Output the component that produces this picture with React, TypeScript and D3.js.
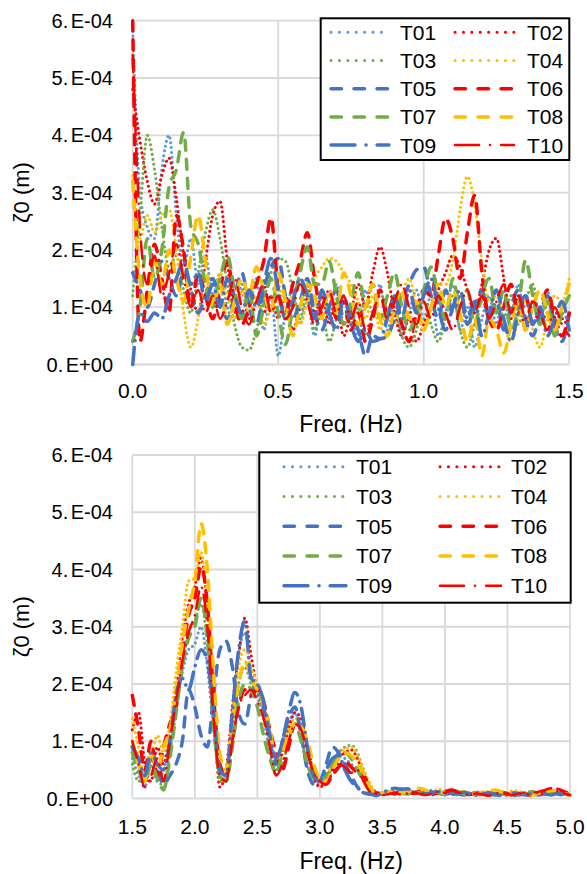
import React from "react";
import * as d3 from "d3";

// Amplitude spectra of the free-surface elevation ζ0 for ten tests.
// All amplitudes are stored in units of 1e-4 m.
const UNIT = 1e-4;
const FREQ_STEP_LOW = 0.025; // Hz, band 0.0–1.5 Hz
const FREQ_STEP_HIGH = 0.05; // Hz, band 1.5–5.0 Hz

const SERIES_NAMES = ["T01", "T02", "T03", "T04", "T05", "T06", "T07", "T08", "T09", "T10"];
const SERIES_COLORS = ["#5B9BD5", "#FF0000", "#70AD47", "#FFC000", "#4472C4", "#FF0000", "#70AD47", "#FFC000", "#4472C4", "#FF0000"];
const SERIES_STYLES = ["dot", "dot", "dot", "dot", "dash", "dash", "dash", "dash", "dashdot", "dashdot"];

// ---- 0.0 – 1.5 Hz ----
const T01_LOW = [
  5.9, 3.0, 2.4, 2.2, 3.4, 4.0, 2.6, 1.7, 2.2, 1.4,
  1.9, 1.2, 1.6, 1.0, 0.8, 1.4, 1.0, 1.5, 0.6, 1.2,
  0.15, 0.9, 1.3, 0.7, 1.1, 0.5, 1.2, 0.8, 1.4, 0.7,
  1.0, 0.4, 1.3, 0.9, 1.4, 0.6, 1.0, 0.5, 0.9, 1.3,
  0.8, 1.2, 0.5, 0.9, 1.4, 0.6, 1.0, 0.3, 0.8, 1.2,
  0.7, 1.3, 0.9, 1.4, 0.6, 1.1, 0.8, 1.3, 0.5, 0.9, 0.7,
];
const T02_LOW = [
  4.8, 3.9, 3.2, 2.8, 3.3, 3.6, 2.9, 1.9, 1.3, 0.9,
  1.8, 2.6, 2.85, 1.8, 0.9, 1.3, 0.8, 1.1, 0.9, 1.2,
  0.8, 1.2, 0.6, 1.0, 1.4, 0.9, 1.2, 0.7, 1.1, 0.5,
  0.9, 1.4, 1.0, 1.6, 2.05, 1.6, 0.9, 0.5, 0.8, 0.4,
  0.7, 1.0, 1.3, 1.6, 1.9, 1.7, 1.3, 0.9, 1.4, 2.0,
  2.2, 1.5, 0.8, 1.2, 0.6, 1.1, 0.7, 0.9, 0.5, 0.8, 0.6,
];
const T03_LOW = [
  1.2, 2.6, 4.0, 3.4, 2.4, 1.7, 1.9, 1.3, 0.9, 1.6,
  2.3, 2.7, 2.2, 1.4, 0.7, 0.3, 0.25, 0.6, 1.1, 1.6,
  1.85, 1.8, 1.3, 0.8, 1.3, 0.6, 0.9, 0.4, 0.8, 1.2,
  0.7, 1.0, 0.5, 0.9, 1.3, 0.9, 1.2, 0.5, 0.3, 0.6,
  1.1, 0.7, 0.4, 0.8, 1.2, 0.6, 0.3, 0.7, 1.1, 0.9,
  1.3, 0.8, 1.2, 0.7, 1.1, 1.4, 0.8, 1.2, 0.7, 1.0, 1.2,
];
const T04_LOW = [
  3.3, 2.2, 2.6, 2.3, 2.6, 2.7, 2.0, 0.9, 0.3, 0.8,
  1.5, 1.1, 1.6, 1.2, 0.8, 1.3, 0.9, 1.2, 0.7, 1.0,
  1.4, 0.9, 1.2, 0.7, 1.1, 1.5, 1.7, 1.85, 1.8, 1.6,
  1.4, 1.1, 0.8, 1.2, 0.6, 1.0, 0.7, 1.2, 1.5, 1.0,
  0.6, 1.0, 1.4, 1.4, 1.8, 2.7, 3.28, 2.8, 1.8, 1.1,
  1.2, 0.7, 0.4, 0.8, 1.1, 0.6, 0.3, 0.8, 1.2, 1.1, 1.5,
];
const T05_LOW = [
  1.6, 1.3, 1.0, 1.4, 1.8, 1.5, 1.2, 1.6, 1.3, 0.9,
  1.2, 1.5, 1.1, 0.8, 1.2, 1.6, 1.0, 0.7, 1.3, 1.7,
  1.85, 1.2, 0.8, 1.1, 1.5, 0.9, 0.6, 1.0, 1.3, 0.8,
  0.9, 0.6, 0.15, 0.5, 0.45, 0.5, 0.8, 1.1, 1.4, 1.65,
  1.7, 1.2, 0.8, 1.3, 0.9, 1.2, 0.7, 1.0, 1.3, 0.8,
  1.1, 0.6, 1.0, 1.3, 0.8, 0.5, 0.9, 1.2, 0.7, 0.4, 0.9,
];
const T06_LOW = [
  6.0, 0.4, 1.3, 2.1, 1.5, 0.9, 2.6, 2.0, 1.0, 1.6,
  1.2, 0.8, 1.3, 1.8, 1.1, 0.7, 1.0, 1.4, 1.8, 2.56,
  1.3, 0.9, 1.4, 1.8, 2.3, 1.5, 0.9, 1.3, 0.8, 1.1,
  0.6, 0.9, 0.4, 0.8, 1.3, 0.9, 1.2, 0.7, 0.4, 0.9,
  1.3, 1.2, 1.9, 2.55, 2.2, 1.5, 2.3, 2.95, 1.6, 0.8,
  0.6, 1.0, 1.4, 0.9, 1.2, 0.7, 1.0, 1.3, 0.8, 0.5, 0.9,
];
const T07_LOW = [
  0.4, 1.0, 2.2, 1.5, 2.0, 3.1, 3.4, 4.05, 2.4, 2.1,
  1.4, 1.0, 1.5, 1.9, 1.3, 0.8, 1.3, 0.5, 1.0, 1.5,
  0.9, 0.35, 1.0, 1.6, 2.05, 1.4, 1.4, 1.8, 1.2, 0.7,
  1.1, 1.6, 1.0, 1.4, 0.8, 1.2, 1.6, 1.0, 0.6, 0.9,
  1.3, 1.7, 1.2, 0.8, 1.5, 1.0, 1.3, 0.7, 1.2, 1.5,
  0.9, 1.3, 0.6, 1.0, 1.82, 1.2, 0.7, 1.1, 0.5, 0.9, 1.2,
];
const T08_LOW = [
  3.2, 1.5, 1.0, 1.8, 1.4, 2.0, 1.5, 1.1, 1.9, 2.6,
  1.8, 1.0, 1.4, 0.7, 1.1, 1.5, 1.2, 1.7, 1.3, 0.9,
  1.6, 1.1, 0.5, 1.0, 1.4, 1.2, 0.8, 1.3, 0.9, 1.6,
  1.2, 0.7, 1.0, 1.4, 0.8, 0.5, 1.0, 1.3, 0.8, 1.1,
  0.6, 1.0, 1.4, 1.0, 1.3, 0.9, 0.4, 0.8, 0.15, 0.8,
  0.6, 0.2, 0.7, 1.1, 0.6, 1.0, 1.3, 0.9, 0.6, 1.0, 1.4,
];
const T09_LOW = [
  0.0, 0.9, 0.75, 0.9, 0.8, 1.2, 1.5, 1.8, 1.4, 1.6,
  1.1, 1.4, 1.0, 1.5, 1.2, 0.9, 1.3, 1.0, 1.4, 1.85,
  1.3, 0.8, 1.1, 1.5, 1.2, 0.8, 1.3, 0.9, 0.6, 1.2,
  0.7, 0.4, 0.6, 0.4, 0.45, 0.8, 1.2, 0.8, 1.3, 0.9,
  1.2, 1.5, 1.0, 0.6, 1.0, 1.3, 0.8, 1.1, 0.5, 0.9,
  1.3, 0.8, 0.4, 0.9, 1.2, 0.7, 1.0, 0.5, 0.8, 1.1, 0.6,
];
const T10_LOW = [
  5.4, 2.4, 1.4, 1.9, 1.2, 1.6, 2.1, 1.5, 1.0, 1.3,
  0.9, 1.2, 0.8, 1.1, 1.5, 1.0, 0.7, 1.1, 1.4, 0.9,
  1.2, 0.8, 1.0, 1.4, 1.1, 0.7, 1.0, 1.3, 0.9, 1.2,
  0.8, 1.1, 0.6, 0.9, 1.2, 0.8, 1.1, 1.4, 1.0, 0.7,
  1.1, 0.8, 1.2, 0.9, 0.6, 1.0, 1.3, 0.9, 1.2, 0.8,
  1.1, 1.4, 0.9, 1.2, 0.8, 1.1, 0.9, 0.6, 1.0, 0.7, 0.5,
];

// ---- 1.5 – 5.0 Hz ----
const T01_HIGH = [
  0.7, 0.4, 0.2, 0.6, 0.3, 0.5, 0.9, 1.6, 2.2, 2.6,
  2.7, 3.0, 2.3, 1.2, 0.4, 0.3, 1.4, 2.5, 2.9, 2.2,
  1.8, 1.4, 0.8, 0.4, 0.9, 1.3, 1.5, 1.1, 0.6, 0.3,
  0.25, 0.3, 0.6, 0.8, 0.7, 0.6, 0.5, 0.3, 0.15, 0.1,
  0.08, 0.12, 0.1, 0.15, 0.1, 0.08, 0.12, 0.1, 0.06, 0.1,
  0.12, 0.08, 0.06, 0.1, 0.08, 0.05, 0.07, 0.1, 0.08, 0.06,
  0.09, 0.07, 0.05, 0.08, 0.1, 0.07, 0.06, 0.09, 0.11, 0.08,
  0.06,
];
const T02_HIGH = [
  1.2, 1.5, 0.6, 0.3, 0.9, 0.6, 1.2, 1.9, 2.8, 3.4,
  3.7, 4.2, 3.3, 1.6, 0.2, 0.5, 1.6, 2.5, 3.15, 2.5,
  1.9, 1.6, 1.1, 0.6, 0.8, 1.2, 1.5, 1.4, 0.9, 0.4,
  0.2, 0.3, 0.5, 0.7, 0.8, 0.85, 0.7, 0.4, 0.15, 0.08,
  0.1, 0.1, 0.12, 0.09, 0.13, 0.1, 0.08, 0.11, 0.14, 0.1,
  0.07, 0.09, 0.12, 0.1, 0.08, 0.06, 0.09, 0.11, 0.08, 0.07,
  0.1, 0.08, 0.06, 0.09, 0.07, 0.1, 0.12, 0.14, 0.1, 0.08,
  0.06,
];
const T03_HIGH = [
  0.6, 0.3, 0.5, 0.8, 0.4, 0.2, 0.8, 1.5, 2.3, 2.9,
  3.1, 3.4, 2.7, 1.3, 0.3, 0.35, 1.2, 2.0, 2.3, 2.0,
  1.9, 1.5, 1.0, 0.5, 0.6, 1.0, 1.3, 1.3, 0.9, 0.5,
  0.3, 0.35, 0.6, 0.8, 0.9, 0.93, 0.8, 0.5, 0.25, 0.12,
  0.1, 0.08, 0.15, 0.18, 0.12, 0.09, 0.1, 0.13, 0.11, 0.08,
  0.1, 0.12, 0.09, 0.07, 0.1, 0.08, 0.06, 0.09, 0.1, 0.07,
  0.05, 0.08, 0.1, 0.07, 0.06, 0.08, 0.1, 0.12, 0.09, 0.07,
  0.05,
];
const T04_HIGH = [
  1.4, 0.9, 0.4, 0.7, 1.1, 0.8, 1.3, 2.2, 3.0, 3.8,
  3.85, 4.3, 3.4, 1.8, 0.6, 0.4, 1.5, 2.3, 2.6, 2.3,
  2.0, 1.6, 1.0, 0.7, 0.9, 1.2, 1.4, 1.3, 0.8, 0.5,
  0.3, 0.4, 0.6, 0.8, 0.85, 0.9, 0.75, 0.5, 0.25, 0.12,
  0.1, 0.12, 0.1, 0.14, 0.16, 0.12, 0.1, 0.08, 0.11, 0.17,
  0.14, 0.1, 0.08, 0.12, 0.1, 0.07, 0.09, 0.12, 0.1, 0.08,
  0.11, 0.14, 0.12, 0.09, 0.07, 0.1, 0.08, 0.12, 0.15, 0.1,
  0.07,
];
const T05_HIGH = [
  0.9, 0.6, 0.3, 0.7, 0.5, 0.25, 0.4, 0.6, 1.0, 1.9,
  1.6, 1.1, 0.9, 1.8, 2.6, 2.75, 2.3, 1.5, 1.3, 1.8,
  2.0, 1.6, 1.0, 0.6, 1.0, 1.4, 1.6, 1.1, 0.5, 0.25,
  0.3, 0.6, 0.9, 0.8, 0.6, 0.4, 0.2, 0.1, 0.08, 0.1,
  0.1, 0.12, 0.1, 0.09, 0.13, 0.1, 0.08, 0.1, 0.12, 0.09,
  0.07, 0.1, 0.08, 0.06, 0.09, 0.11, 0.08, 0.06, 0.08, 0.1,
  0.07, 0.05, 0.08, 0.1, 0.08, 0.06, 0.09, 0.11, 0.08, 0.06,
  0.05,
];
const T06_HIGH = [
  1.8, 1.2, 0.5, 1.0, 0.4, 0.9, 1.3, 1.6, 2.5, 3.2,
  3.5, 4.05, 3.4, 1.8, 0.6, 0.4, 1.0, 1.6, 1.9, 1.8,
  1.9, 1.7, 1.2, 0.8, 0.5, 0.9, 1.3, 1.25, 0.9, 0.5,
  0.3, 0.25, 0.4, 0.55, 0.65, 0.55, 0.45, 0.4, 0.2, 0.1,
  0.08, 0.1, 0.08, 0.12, 0.1, 0.09, 0.13, 0.11, 0.08, 0.1,
  0.12, 0.15, 0.12, 0.09, 0.07, 0.1, 0.08, 0.06, 0.09, 0.11,
  0.08, 0.06, 0.09, 0.07, 0.05, 0.08, 0.1, 0.13, 0.16, 0.12,
  0.08,
];
const T07_HIGH = [
  0.8, 0.5, 0.3, 0.6, 0.35, 0.15, 0.7, 1.5, 2.3, 2.8,
  3.0, 3.5, 2.8, 1.3, 0.4, 0.3, 0.9, 1.7, 2.0, 1.9,
  1.6, 1.1, 0.7, 0.45, 0.8, 1.1, 1.3, 1.0, 0.6, 0.35,
  0.3, 0.4, 0.6, 0.75, 0.8, 0.7, 0.5, 0.3, 0.15, 0.1,
  0.08, 0.1, 0.12, 0.09, 0.08, 0.11, 0.1, 0.08, 0.12, 0.1,
  0.07, 0.09, 0.11, 0.08, 0.06, 0.09, 0.1, 0.08, 0.06, 0.09,
  0.11, 0.08, 0.07, 0.1, 0.12, 0.09, 0.07, 0.1, 0.12, 0.09,
  0.06,
];
const T08_HIGH = [
  1.0, 0.6, 0.3, 0.8, 0.5, 0.9, 1.2, 1.9, 2.7, 3.3,
  3.8, 4.8, 4.0, 2.2, 0.8, 0.5, 1.4, 2.0, 2.4, 2.1,
  1.9, 1.7, 1.2, 0.7, 0.8, 1.1, 1.3, 1.25, 1.0, 0.6,
  0.35, 0.3, 0.5, 0.7, 0.8, 0.75, 0.6, 0.45, 0.2, 0.1,
  0.1, 0.11, 0.13, 0.1, 0.12, 0.15, 0.18, 0.14, 0.1, 0.12,
  0.09, 0.07, 0.1, 0.12, 0.09, 0.08, 0.11, 0.13, 0.15, 0.12,
  0.09, 0.07, 0.1, 0.08, 0.06, 0.09, 0.11, 0.14, 0.12, 0.09,
  0.06,
];
const T09_HIGH = [
  0.9, 0.7, 0.4, 0.8, 0.6, 0.5, 1.0, 1.8, 2.1, 1.9,
  2.3, 2.6, 2.4, 1.5, 0.5, 0.4, 1.5, 2.6, 3.1, 2.1,
  2.0, 1.7, 1.1, 0.7, 1.0, 1.5, 1.85, 1.6, 0.9, 0.4,
  0.3, 0.5, 0.7, 0.75, 0.5, 0.3, 0.2, 0.1, 0.08, 0.05,
  0.1, 0.15, 0.18, 0.16, 0.17, 0.12, 0.1, 0.08, 0.1, 0.12,
  0.09, 0.07, 0.09, 0.11, 0.08, 0.06, 0.08, 0.1, 0.07, 0.05,
  0.08, 0.1, 0.08, 0.06, 0.09, 0.1, 0.08, 0.06, 0.09, 0.08,
  0.06,
];
const T10_HIGH = [
  1.0, 0.6, 0.2, 0.4, 0.7, 0.3, 1.0, 1.7, 2.4, 2.9,
  3.2, 3.7, 3.0, 1.4, 0.4, 0.3, 1.0, 1.6, 1.8, 1.9,
  1.7, 1.4, 0.9, 0.4, 0.6, 1.0, 1.3, 1.2, 0.8, 0.45,
  0.3, 0.25, 0.45, 0.6, 0.55, 0.45, 0.5, 0.3, 0.12, 0.08,
  0.06, 0.08, 0.1, 0.07, 0.09, 0.11, 0.08, 0.06, 0.09, 0.12,
  0.1, 0.14, 0.11, 0.08, 0.06, 0.09, 0.07, 0.05, 0.08, 0.1,
  0.08, 0.06, 0.09, 0.07, 0.1, 0.12, 0.15, 0.18, 0.13, 0.09,
  0.06,
];

const LOW_BAND = [T01_LOW, T02_LOW, T03_LOW, T04_LOW, T05_LOW, T06_LOW, T07_LOW, T08_LOW, T09_LOW, T10_LOW];
const HIGH_BAND = [T01_HIGH, T02_HIGH, T03_HIGH, T04_HIGH, T05_HIGH, T06_HIGH, T07_HIGH, T08_HIGH, T09_HIGH, T10_HIGH];

const Y_TICKS = [0, 1, 2, 3, 4, 5, 6];
const Y_TICK_LABELS = ["0.E+00", "1.E-04", "2.E-04", "3.E-04", "4.E-04", "5.E-04", "6.E-04"];
const X_TICKS_LOW = [0, 0.5, 1.0, 1.5];
const X_TICK_LABELS_LOW = ["0.0", "0.5", "1.0", "1.5"];
const X_TICKS_HIGH = [1.5, 2.0, 2.5, 3.0, 3.5, 4.0, 4.5, 5.0];
const X_TICK_LABELS_HIGH = ["1.5", "2.0", "2.5", "3.0", "3.5", "4.0", "4.5", "5.0"];

const FONT = "'Liberation Sans', Arial, sans-serif";
const GRID = "#D9D9D9";

const PLOT_DASH: Record<string, string> = { dot: "0.1 4.8", dash: "10 9", dashdot: "17 7 0.1 7" };
const LEGEND_DASH: Record<string, string> = { dot: "0.1 8.3", dash: "10.5 12.5", dashdot: "24 11 0.1 11" };
const WIDTHS = [3, 3, 3, 3, 3.5, 3.5, 3.5, 3.5, 3.5, 2.5];

type LegendLayout = {
  box: [number, number, number, number];
  row0: number;
  rowStep: number;
  cols: { x1: number; x2: number; tx: number }[];
};

type PanelProps = {
  left: number;
  right: number;
  top: number;
  bottom: number;
  xDomain: [number, number];
  freqStart: number;
  freqStep: number;
  series: number[][];
  xTicks: number[];
  xTickLabels: string[];
  xLabelDy: number;
  titleY: number;
  legend: LegendLayout;
};

function Panel(p: PanelProps) {
  const x = d3.scaleLinear().domain(p.xDomain).range([p.left, p.right]);
  const y = d3.scaleLinear().domain([0, 6 * UNIT]).range([p.bottom, p.top]);
  const line = d3
    .line<[number, number]>()
    .x((d) => x(d[0]))
    .y((d) => y(d[1] * UNIT))
    .curve(d3.curveMonotoneX);
  const midY = (p.top + p.bottom) / 2;
  const midX = (p.left + p.right) / 2;
  const [bx, by, bw, bh] = p.legend.box;

  return (
    <g>
      {Y_TICKS.map((t) => (
        <line key={"h" + t} x1={p.left} x2={p.right} y1={y(t * UNIT)} y2={y(t * UNIT)} stroke={GRID} strokeWidth={1.8} />
      ))}
      {p.xTicks.map((t) => (
        <line key={"v" + t} x1={x(t)} x2={x(t)} y1={p.top} y2={p.bottom} stroke={GRID} strokeWidth={1.8} />
      ))}
      {Y_TICKS.map((t, i) => {
        const lab = Y_TICK_LABELS[i];
        return (
          <text key={"yl" + t} x={113} y={y(t * UNIT) + 7} textAnchor="end" fontSize={20} fontFamily={FONT} fill="#000">
            {lab.slice(0, 2)}
            <tspan dx={2.5}>{lab.slice(2)}</tspan>
          </text>
        );
      })}
      {p.xTicks.map((t, i) => (
        <text key={"xl" + t} x={x(t)} y={p.bottom + p.xLabelDy} textAnchor="middle" fontSize={21} fontFamily={FONT} fill="#000">
          {p.xTickLabels[i]}
        </text>
      ))}
      <text
        transform={`translate(29,${midY}) rotate(-90)`}
        textAnchor="middle"
        fontSize={22}
        fontFamily={FONT}
        fill="#000"
      >
        ζ0 (m)
      </text>
      <text x={midX} y={p.titleY} textAnchor="middle" fontSize={23} fontFamily={FONT} fill="#000">
        Freq. (Hz)
      </text>
      {p.series.map((vals, k) => {
        const pts: [number, number][] = vals.map((v, i) => [p.freqStart + i * p.freqStep, v]);
        return (
          <path
            key={SERIES_NAMES[k]}
            d={line(pts) || ""}
            fill="none"
            stroke={SERIES_COLORS[k]}
            strokeWidth={WIDTHS[k]}
            strokeDasharray={PLOT_DASH[SERIES_STYLES[k]]}
            strokeLinecap="round"
            strokeLinejoin="round"
          />
        );
      })}
      <rect x={bx} y={by} width={bw} height={bh} fill="#fff" stroke="#000" strokeWidth={2} />
      {SERIES_NAMES.map((name, k) => {
        const col = p.legend.cols[k % 2];
        const cy = p.legend.row0 + Math.floor(k / 2) * p.legend.rowStep;
        return (
          <g key={"lg" + name}>
            <line
              x1={col.x1}
              x2={col.x2}
              y1={cy}
              y2={cy}
              stroke={SERIES_COLORS[k]}
              strokeWidth={WIDTHS[k]}
              strokeDasharray={LEGEND_DASH[SERIES_STYLES[k]]}
              strokeLinecap="round"
            />
            <text x={col.tx} y={cy + 7.5} fontSize={21} fontFamily={FONT} fill="#000">
              {name}
            </text>
          </g>
        );
      })}
    </g>
  );
}

export default function App() {
  return (
    <svg
      width={587}
      height={874}
      viewBox="0 0 587 874"
      style={{ position: "absolute", left: 0, top: 0, background: "#fff" }}
    >
      <defs>
        <clipPath id="upperPanel">
          <rect x={0} y={0} width={587} height={433} />
        </clipPath>
      </defs>
      <rect x={0} y={0} width={587} height={874} fill="#fff" />
      <g clipPath="url(#upperPanel)">
        <Panel
          left={132.7}
          right={569.2}
          top={20.7}
          bottom={364.5}
          xDomain={[0, 1.5]}
          freqStart={0}
          freqStep={FREQ_STEP_LOW}
          series={LOW_BAND}
          xTicks={X_TICKS_LOW}
          xTickLabels={X_TICK_LABELS_LOW}
          xLabelDy={33}
          titleY={431.5}
          legend={{
            box: [320.7, 18.3, 248.6, 141.7],
            row0: 32.3,
            rowStep: 28.2,
            cols: [
              { x1: 331, x2: 389, tx: 400 },
              { x1: 455, x2: 514, tx: 527 },
            ],
          }}
        />
      </g>
      <Panel
        left={132.3}
        right={570}
        top={455}
        bottom={798.5}
        xDomain={[1.5, 5.0]}
        freqStart={1.5}
        freqStep={FREQ_STEP_HIGH}
        series={HIGH_BAND}
        xTicks={X_TICKS_HIGH}
        xTickLabels={X_TICK_LABELS_HIGH}
        xLabelDy={35}
        titleY={869}
        legend={{
          box: [259.3, 452.3, 311.4, 150.4],
          row0: 466.7,
          rowStep: 29.75,
          cols: [
            { x1: 284, x2: 346, tx: 356 },
            { x1: 440, x2: 501, tx: 511 },
          ],
        }}
      />
    </svg>
  );
}
